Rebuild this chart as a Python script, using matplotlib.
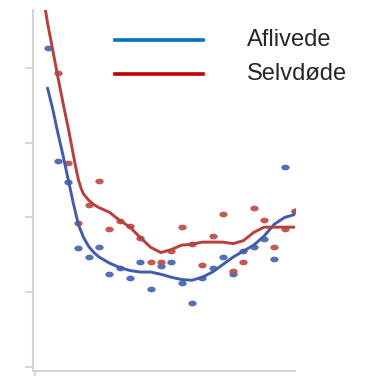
import numpy as np
import matplotlib
matplotlib.use("Agg")
import matplotlib.pyplot as plt
from matplotlib.path import Path

# observation index (one point per period)
periods = np.arange(25)

aflivede_obs = [4.27, 2.76, 2.48, 1.59, 1.47, 1.60, 1.25, 1.33, 1.19, 1.40, 1.04, 1.35, 1.40,
                1.13, 0.85, 1.19, 1.32, 1.47, 1.25, 1.55, 1.61, 1.71, 1.44, 2.67, 2.09]
selvdode_obs = [np.nan, 3.93, 2.73, 1.92, 2.17, 2.49, 1.84, 1.95, 1.89, 1.72, 1.40, 1.40, 1.55,
                1.87, 1.65, 1.37, 1.75, 2.05, 1.29, 1.40, 2.12, 1.96, 1.61, 1.84, 2.08]

# smoothed trends, sampled more densely where they bend sharply
aflivede_x = [0, 0.5, 1, 1.5, 2, 2.5, 3, 3.5, 4, 4.5, 5, 6, 7, 8, 9, 10, 11, 12,
              13, 14, 15, 16, 17, 18, 19, 20, 21, 22, 23, 24]
aflivede_trend = [3.73, 3.45, 3.13, 2.83, 2.51, 2.19, 1.90, 1.73, 1.61, 1.53, 1.47, 1.39, 1.33,
                  1.29, 1.27, 1.27, 1.24, 1.20, 1.17, 1.16, 1.20, 1.27, 1.37, 1.47, 1.55,
                  1.63, 1.75, 1.91, 2.00, 2.04]
selvdode_x = [-0.3, 0, 0.5, 1, 1.5, 2, 2.5, 2.75, 3, 3.25, 3.5, 4, 4.5, 5, 6, 7, 8, 9, 10, 11,
              12, 13, 14, 15, 16, 17, 18, 19, 20, 21, 22, 23, 24]
selvdode_trend = [4.85, 4.60, 4.24, 3.88, 3.53, 3.20, 2.84, 2.66, 2.50, 2.39, 2.31, 2.23, 2.17,
                  2.13, 2.07, 1.96, 1.87, 1.73, 1.60, 1.53, 1.57, 1.63, 1.64, 1.67, 1.67, 1.67,
                  1.65, 1.69, 1.80, 1.87, 1.87, 1.87, 1.87]

labels = ["Aflivede", "Selvdøde"]

blue_pts = "#4a67b5"
red_pts = "#c0504d"
blue_leg = "#0070c0"
red_leg = "#c00000"

# slightly wide dot marker
t = np.linspace(0, 2 * np.pi, 40)
dot = Path(np.column_stack([1.45 * np.cos(t), np.sin(t)]))

fig = plt.figure(figsize=(3.75, 3.76), dpi=100)
ax = fig.add_axes([33 / 375, 5 / 376, 262 / 375, 361 / 376])

ax.plot(periods, aflivede_obs, linestyle="none", marker=dot, markersize=6,
        color=blue_pts, markeredgewidth=0, alpha=0.95)
ax.plot(periods, selvdode_obs, linestyle="none", marker=dot, markersize=6,
        color=red_pts, markeredgewidth=0, alpha=0.95)
ax.plot(aflivede_x, aflivede_trend, color="#3f5cae", lw=2.1,
        solid_capstyle="round", solid_joinstyle="round")
ax.plot(selvdode_x, selvdode_trend, color="#b5403d", lw=2.1,
        solid_capstyle="round", solid_joinstyle="round")

ax.set_xlim(-1.41, 24.0)
ax.set_ylim(-0.053, 4.773)
ax.set_yticks([0, 1, 2, 3, 4])
ax.set_xticks([-1.2])
ax.set_yticklabels([])
ax.set_xticklabels([])
ax.tick_params(axis="both", direction="out", length=6, width=1.2, color="#cfcfcf")

for side in ["top", "right"]:
    ax.spines[side].set_visible(False)
for side in ["left", "bottom"]:
    ax.spines[side].set_color("#d4d4d4")
    ax.spines[side].set_linewidth(1.5)

# legend drawn by hand
for y, c, lab in [(0.917, blue_leg, labels[0]), (0.823, red_leg, labels[1])]:
    ax.plot([0.313, 0.649], [y, y], transform=ax.transAxes, color=c, lw=2.6, clip_on=False)
    ax.text(0.817, y, lab, transform=ax.transAxes, fontsize=17, family="Liberation Sans",
            color="#262626", va="center", ha="left")

fig.savefig("out.png", dpi=100)
